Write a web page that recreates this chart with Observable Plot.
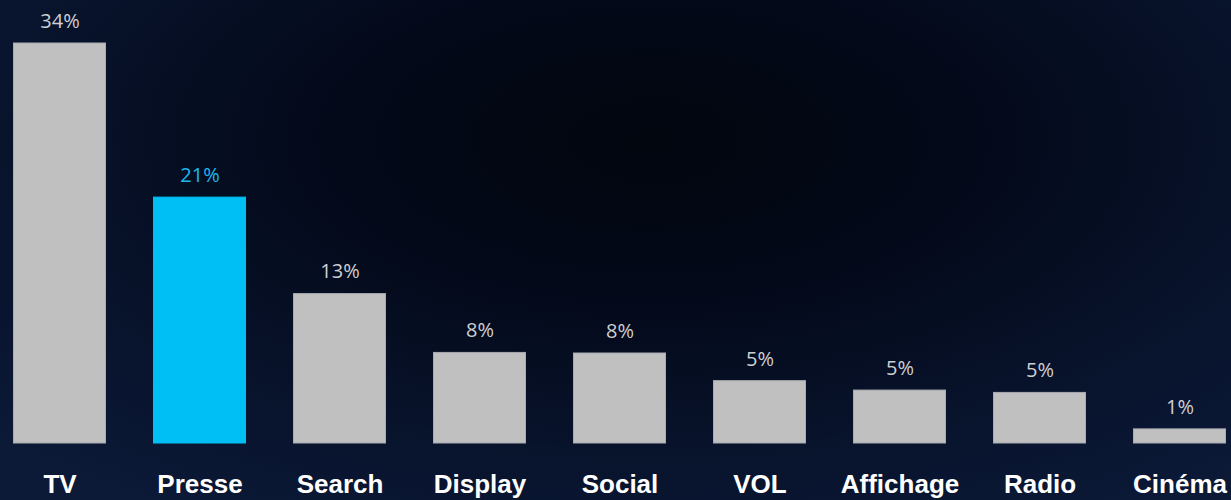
<!DOCTYPE html>
<html>
<head>
<meta charset="utf-8">
<script src="https://cdn.jsdelivr.net/npm/d3@7"></script>
<script src="https://cdn.jsdelivr.net/npm/@observablehq/plot@0.6"></script>
<style>
  html, body { margin: 0; padding: 0; }
  #chart {
    width: 1231px; height: 500px; overflow: hidden;
    background: radial-gradient(ellipse 75% 90% at 53% 28%, #02060f 0%, #030919 35%, #08132c 70%, #0c1a38 100%);
  }
  #chart svg { background: transparent !important; display: block; }
  .xaxis text { font-family: "Liberation Sans", Arial, sans-serif; font-weight: 700; }
</style>
</head>
<body>
<div id="chart"></div>
<script>
const categories = ["TV", "Presse", "Search", "Display", "Social", "VOL", "Affichage", "Radio", "Cinéma"];
const values = [34, 20.9, 12.7, 7.7, 7.65, 5.3, 4.5, 4.3, 1.2];
const valueLabels = ["34%", "21%", "13%", "8%", "8%", "5%", "5%", "5%", "1%"];
const highlight = "Presse";

const data = categories.map((c, i) => ({cat: c, value: values[i], label: valueLabels[i], hl: c === highlight}));

const chart = Plot.plot({
  width: 1231,
  height: 500,
  marginTop: 43,
  marginBottom: 57,
  marginLeft: 13,
  marginRight: 5,
  style: {background: "transparent"},
  x: {domain: categories, paddingInner: 0.336, paddingOuter: 0, axis: null},
  y: {domain: [0, 34], axis: null},
  marks: [
    Plot.barY(data, {x: "cat", y: "value", fill: d => d.hl ? "#00bff4" : "#c0c0c0",
      stroke: d => d.hl ? "#00bff4" : "#a9abb2", strokeWidth: 1, insetLeft: 0.5, insetRight: 0.5}),
    Plot.text(data, {x: "cat", y: "value", text: "label", dy: -22,
      fill: d => d.hl ? "#1ab8ee" : "#cfcfd2", fontSize: 20,
      fontFamily: "'Open Sans', sans-serif"}),
    Plot.axisX({domain: categories, tickSize: 0, tickPadding: 31, fontSize: 26, fill: "#ffffff", className: "xaxis", label: null})
  ]
});
document.getElementById("chart").appendChild(chart);
</script>
</body>
</html>
